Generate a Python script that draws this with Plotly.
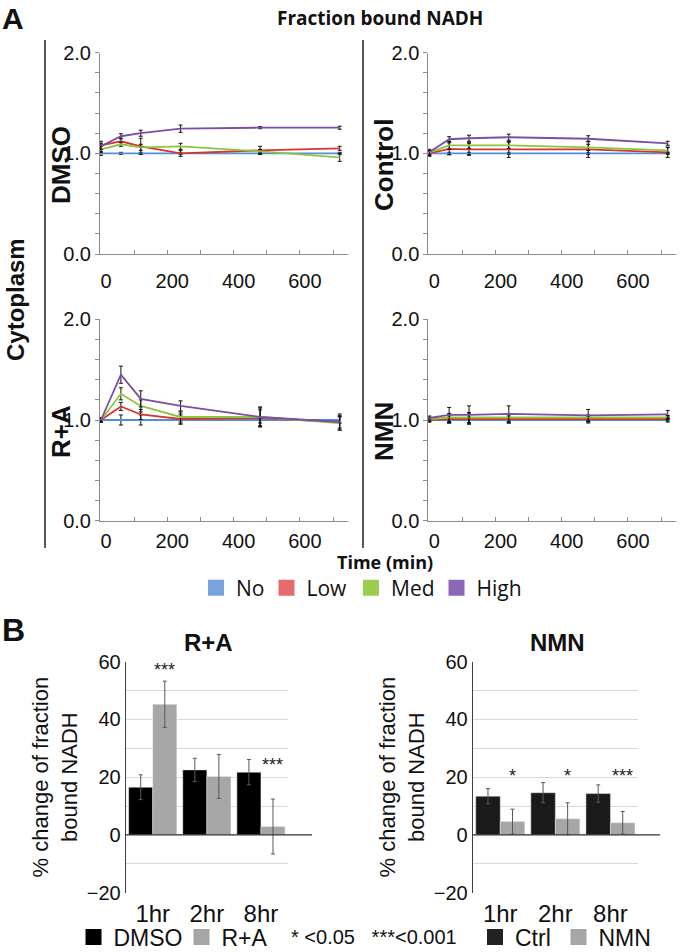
import plotly.graph_objects as go

W, H = 681, 952

# ---------------- data: panel A (fraction bound NADH, normalised) ----------------
times = [0, 60, 120, 240, 480, 720]
levels = ["No", "Low", "Med", "High"]
line_colors = ["#4f8fdc", "#d8352c", "#8cc63f", "#7a4ea6"]
legend_colors = ["#7aa3dd", "#e8696b", "#9ccd4e", "#8b68b5"]

dmso_no = [1.0, 1.0, 1.0, 1.0, 1.0, 1.0]
dmso_low = [1.08, 1.12, 1.07, 1.0, 1.03, 1.05]
dmso_med = [1.04, 1.09, 1.06, 1.07, 1.02, 0.96]
dmso_high = [1.07, 1.17, 1.20, 1.245, 1.255, 1.255]
dmso_no_err = [0.02, 0.01, 0.01, 0.01, 0.01, 0.01]
dmso_low_err = [0.04, 0.03, 0.08, 0.03, 0.04, 0.02]
dmso_med_err = [0.03, 0.02, 0.03, 0.03, 0.02, 0.04]
dmso_high_err = [0.03, 0.025, 0.03, 0.036, 0.01, 0.015]

ctrl_no = [1.0, 1.0, 1.0, 1.0, 1.0, 1.0]
ctrl_low = [1.0, 1.045, 1.04, 1.04, 1.04, 1.01]
ctrl_med = [1.01, 1.08, 1.08, 1.08, 1.06, 1.03]
ctrl_high = [1.01, 1.14, 1.15, 1.16, 1.145, 1.10]
ctrl_no_err = [0.02, 0.01, 0.01, 0.01, 0.01, 0.01]
ctrl_low_err = [0.03, 0.06, 0.06, 0.08, 0.08, 0.05]
ctrl_med_err = [0.03, 0.04, 0.03, 0.03, 0.03, 0.03]
ctrl_high_err = [0.02, 0.025, 0.03, 0.03, 0.03, 0.02]

ra_no = [1.0, 1.0, 1.0, 1.0, 1.0, 1.0]
ra_low = [1.0, 1.135, 1.055, 1.01, 1.02, 0.98]
ra_med = [1.0, 1.26, 1.14, 1.03, 1.03, 0.97]
ra_high = [1.0, 1.45, 1.21, 1.14, 1.03, 0.98]
ra_no_err = [0.02, 0.05, 0.05, 0.04, 0.03, 0.03]
ra_low_err = [0.02, 0.04, 0.05, 0.05, 0.08, 0.06]
ra_med_err = [0.02, 0.06, 0.06, 0.05, 0.09, 0.07]
ra_high_err = [0.02, 0.085, 0.08, 0.05, 0.10, 0.08]

nmn_no = [1.0, 1.0, 1.0, 1.0, 1.0, 1.0]
nmn_low = [1.0, 1.01, 1.01, 1.01, 1.01, 1.01]
nmn_med = [1.01, 1.025, 1.025, 1.025, 1.02, 1.025]
nmn_high = [1.02, 1.05, 1.05, 1.06, 1.045, 1.055]
nmn_no_err = [0.02, 0.03, 0.03, 0.03, 0.03, 0.02]
nmn_low_err = [0.02, 0.04, 0.05, 0.04, 0.03, 0.02]
nmn_med_err = [0.02, 0.04, 0.05, 0.04, 0.03, 0.02]
nmn_high_err = [0.02, 0.075, 0.09, 0.08, 0.06, 0.04]

# ---------------- data: panel B (% change) ----------------
hours = ["1hr", "2hr", "8hr"]
ra_dmso_pct = [16.5, 22.5, 21.7]
ra_dmso_pct_err = [4.3, 4.0, 4.4]
ra_treat_pct = [45.2, 20.2, 2.9]
ra_treat_pct_err = [8.0, 7.6, 9.5]
ra_stars = ["***", "", "***"]
ra_star_y = [57, None, 24.3]

nmn_ctrl_pct = [13.4, 14.6, 14.3]
nmn_ctrl_pct_err = [2.6, 3.5, 3.0]
nmn_treat_pct = [4.6, 5.6, 4.2]
nmn_treat_pct_err = [4.3, 5.5, 3.9]
nmn_stars = ["*", "*", "***"]
nmn_star_y = [20.4, 20.4, 20.4]

# ---------------- helpers ----------------
def px(x):
    return x / W

def py(y):
    return 1 - y / H

SANS = "Liberation Sans, Arial, sans-serif"
OPEN = "Open Sans, sans-serif"

fig = go.Figure()

panels = [
    ("x", "y", [dmso_no, dmso_low, dmso_med, dmso_high],
     [dmso_no_err, dmso_low_err, dmso_med_err, dmso_high_err]),
    ("x2", "y2", [ctrl_no, ctrl_low, ctrl_med, ctrl_high],
     [ctrl_no_err, ctrl_low_err, ctrl_med_err, ctrl_high_err]),
    ("x3", "y3", [ra_no, ra_low, ra_med, ra_high],
     [ra_no_err, ra_low_err, ra_med_err, ra_high_err]),
    ("x4", "y4", [nmn_no, nmn_low, nmn_med, nmn_high],
     [nmn_no_err, nmn_low_err, nmn_med_err, nmn_high_err]),
]

for xa, ya, series, errs in panels:
    for name, vals, err, col in zip(levels, series, errs, line_colors):
        fig.add_trace(go.Scatter(
            x=times, y=vals, mode="lines", name=name, showlegend=False,
            line=dict(color=col, width=1.8),
            error_y=dict(type="data", array=err, color="#111", thickness=1, width=2),
            xaxis=xa, yaxis=ya))

# bar charts
bar_black = "#000000"
bar_gray = "#a6a6a6"
err_style = dict(type="data", color="#595959", thickness=1, width=2)

fig.add_trace(go.Bar(x=hours, y=ra_dmso_pct, name="DMSO", marker_color=bar_black,
                     error_y=dict(array=ra_dmso_pct_err, **err_style),
                     xaxis="x5", yaxis="y5", showlegend=False))
fig.add_trace(go.Bar(x=hours, y=ra_treat_pct, name="R+A", marker_color=bar_gray,
                     error_y=dict(array=ra_treat_pct_err, **err_style),
                     xaxis="x5", yaxis="y5", showlegend=False))
fig.add_trace(go.Bar(x=hours, y=nmn_ctrl_pct, name="Ctrl", marker_color="#1a1a1a",
                     error_y=dict(array=nmn_ctrl_pct_err, **err_style),
                     xaxis="x6", yaxis="y6", showlegend=False))
fig.add_trace(go.Bar(x=hours, y=nmn_treat_pct, name="NMN", marker_color=bar_gray,
                     error_y=dict(array=nmn_treat_pct_err, **err_style),
                     xaxis="x6", yaxis="y6", showlegend=False))

# ---------------- legends: one square swatch per entry ----------------
legend_entries = [
    # name, colour, swatch centre x (px), centre y (px), font, size
    ("No", legend_colors[0], 216, 588, OPEN, 21),
    ("Low", legend_colors[1], 286.5, 588, OPEN, 21),
    ("Med", legend_colors[2], 371, 588, OPEN, 21),
    ("High", legend_colors[3], 456.5, 588, OPEN, 21),
    ("DMSO", bar_black, 93.5, 937, SANS, 23),
    ("R+A", bar_gray, 201.5, 937, SANS, 23),
    ("Ctrl", "#222222", 495, 937, SANS, 23),
    ("NMN", bar_gray, 578.5, 937, SANS, 23),
]
legend_layouts = {}
for k, (name, col, cx, cy, fam, fs) in enumerate(legend_entries):
    key = "legend" if k == 0 else f"legend{k + 1}"
    fig.add_trace(go.Scatter(
        x=[None], y=[None], mode="markers", name=name, legend=key,
        marker=dict(symbol="square", size=16, color=col),
        xaxis="x", yaxis="y"))
    legend_layouts[key] = dict(
        orientation="h", x=px(cx - 20), xanchor="left", y=py(cy), yanchor="middle",
        font=dict(family=fam, size=fs, color="#111"), bgcolor="rgba(0,0,0,0)",
        borderwidth=0, itemclick=False, itemdoubleclick=False)

# ---------------- axes ----------------
tick_font = dict(family=SANS, size=20, color="#111")
axis_gray = "#8c8c8c"

def line_x(domain, standoff):
    return dict(domain=domain, range=[-3, 745], dtick=200, tick0=0,
                showline=True, linecolor=axis_gray, linewidth=1,
                ticks="inside", ticklen=4, tickcolor=axis_gray,
                minor=dict(dtick=100, ticks="inside", ticklen=4, tickcolor=axis_gray),
                showgrid=False, zeroline=False, tickfont=tick_font,
                ticklabelstandoff=standoff, ticklabelshift=5, fixedrange=True)

def line_y(domain):
    return dict(domain=domain, range=[0, 2], tickvals=[0, 1, 2],
                ticktext=["0.0", "1.0", "2.0"],
                showline=True, linecolor=axis_gray, linewidth=1,
                ticks="outside", ticklen=4, tickcolor=axis_gray,
                minor=dict(tickvals=[0.2, 0.4, 0.6, 0.8, 1.2, 1.4, 1.6, 1.8],
                           ticks="outside", ticklen=4, tickcolor=axis_gray),
                showgrid=False, zeroline=False, tickfont=tick_font, fixedrange=True)

left_dom = [px(100), px(348)]
right_dom = [px(428.3), px(676)]
top_dom = [py(254), py(52.7)]
bot_dom = [py(520.7), py(319.3)]

bar_tick_font = dict(family=SANS, size=20, color="#111")

def bar_y(domain):
    return dict(domain=domain, range=[-20, 60], dtick=20, tick0=0,
                showline=True, linecolor="#404040", linewidth=1,
                showgrid=True, gridcolor="#d9d9d9", gridwidth=1,
                minor=dict(dtick=10, showgrid=True, gridcolor="#d9d9d9"),
                zeroline=False, ticks="", tickfont=bar_tick_font,
                title=dict(text="% change of fraction<br>bound NADH",
                           font=dict(family=SANS, size=22, color="#111"),
                           standoff=3),
                fixedrange=True)

def bar_x(domain):
    return dict(domain=domain, showline=False, ticks="", showgrid=False,
                ticklabelstandoff=4,
                tickfont=dict(family=SANS, size=24, color="#111"), fixedrange=True)

bar_dom_y = [py(892.7), py(661.5)]

fig.update_layout(
    width=W, height=H,
    margin=dict(l=0, r=0, t=0, b=0, autoexpand=False),
    paper_bgcolor="white", plot_bgcolor="white",
    barmode="group", bargap=0.11, bargroupgap=0.0,
    xaxis=line_x(left_dom, 9), yaxis=line_y(top_dom),
    xaxis2=dict(line_x(right_dom, 9), anchor="y2"), yaxis2=dict(line_y(top_dom), anchor="x2"),
    xaxis3=dict(line_x(left_dom, 2), anchor="y3"), yaxis3=dict(line_y(bot_dom), anchor="x3"),
    xaxis4=dict(line_x(right_dom, 2), anchor="y4"), yaxis4=dict(line_y(bot_dom), anchor="x4"),
    xaxis5=dict(bar_x([px(125.7), px(288)]), anchor="y5"),
    yaxis5=dict(bar_y(bar_dom_y), anchor="x5"),
    xaxis6=dict(bar_x([px(472.7), px(638)]), anchor="y6"),
    yaxis6=dict(bar_y(bar_dom_y), anchor="x6"),
    showlegend=True,
    **legend_layouts,
)

# zero lines of the bar charts (extend past the gridlines)
fig.add_shape(type="line", xref="paper", yref="y5", x0=px(125.7), x1=px(312), y0=0, y1=0,
              line=dict(color="#333", width=1.3))
fig.add_shape(type="line", xref="paper", yref="y6", x0=px(472.7), x1=px(660), y0=0, y1=0,
              line=dict(color="#333", width=1.3))

# divider lines of panel A
fig.add_shape(type="line", xref="paper", yref="paper", x0=px(45), x1=px(45), y0=py(40), y1=py(548),
              line=dict(color="#222", width=1.5))
fig.add_shape(type="line", xref="paper", yref="paper", x0=px(363), x1=px(363), y0=py(40), y1=py(548),
              line=dict(color="#222", width=1.5))

# significance stars (over second bar of each group)
offset = (1 - 0.11) / 4
for i, (s, yv) in enumerate(zip(ra_stars, ra_star_y)):
    if s:
        fig.add_annotation(x=i + offset, y=yv, xref="x5", yref="y5", text=s, showarrow=False,
                           font=dict(family=SANS, size=18, color="#222"), yanchor="middle")
for i, (s, yv) in enumerate(zip(nmn_stars, nmn_star_y)):
    if s:
        fig.add_annotation(x=i + offset, y=yv, xref="x6", yref="y6", text=s, showarrow=False,
                           font=dict(family=SANS, size=18, color="#222"), yanchor="middle")

def label(text, x, y, size, bold=True, family=SANS, angle=0):
    fig.add_annotation(x=px(x), y=py(y), xref="paper", yref="paper",
                       text=f"<b>{text}</b>" if bold else text, showarrow=False,
                       textangle=angle, xanchor="center", yanchor="middle",
                       font=dict(family=family, size=size, color="#111"))

label("A", 13, 18, 30)
label("Fraction bound NADH", 380, 18, 19, family=OPEN)
label("Cytoplasm", 15, 300, 24, angle=-90)
label("DMSO", 61, 165, 26, angle=-90)
label("Control", 384, 165, 26, angle=-90)
label("R+A", 61, 432, 26, angle=-90)
label("NMN", 384, 432, 26, angle=-90)
label("Time (min)", 385, 562, 18, family=OPEN)
label("B", 13, 630, 32)
label("R+A", 208, 642, 24)
label("NMN", 557, 642, 24)
label("* &lt;0.05   ***&lt;0.001", 374, 937, 20, bold=False)

fig.write_html("out.html", config={"displayModeBar": False},
               post_script="document.body.style.margin='0';document.body.style.overflow='hidden';")
